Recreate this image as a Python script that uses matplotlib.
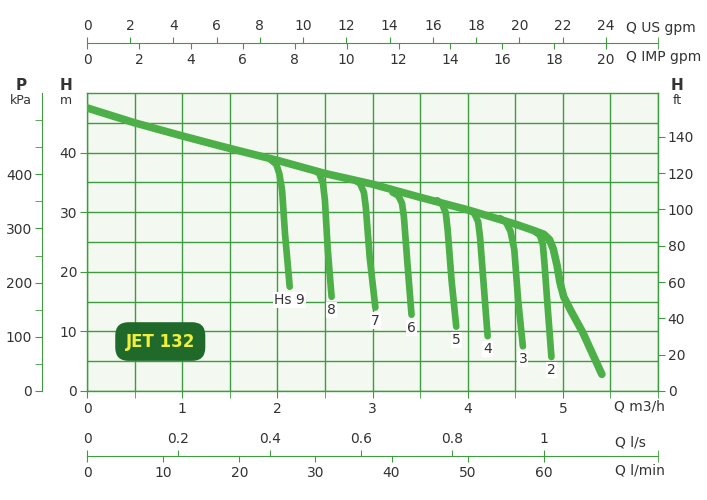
# JET 132 pump curve

import numpy as np
import matplotlib
matplotlib.use("Agg")
import matplotlib.pyplot as plt
from matplotlib.ticker import MultipleLocator, FixedLocator

# main envelope curve, Q in m3/h, H in m
main_q = [0, 0.5, 1.0, 1.5, 2.0, 2.5, 3.0, 3.5, 4.0, 4.5, 4.7, 4.8, 4.86, 4.9, 4.94, 4.97, 5.01, 5.08, 5.21, 5.41]
main_h = [47.5, 45.0, 42.8, 40.7, 38.7, 36.5, 34.7, 32.5, 30.4, 28.0, 26.9, 26.3, 25.4, 23.8, 21.0, 18.2, 15.8, 13.6, 9.8, 2.8]

# branch curves for each suction height
hs_labels = ["Hs 9", "8", "7", "6", "5", "4", "3", "2"]
hs_q = [
    [1.93, 1.99, 2.02, 2.05, 2.08, 2.13],
    [2.39, 2.44, 2.48, 2.50, 2.53, 2.57],
    [2.82, 2.87, 2.91, 2.93, 2.97, 3.03],
    [3.21, 3.27, 3.31, 3.33, 3.37, 3.41],
    [3.68, 3.73, 3.77, 3.79, 3.83, 3.88],
    [4.02, 4.07, 4.11, 4.13, 4.17, 4.21],
    [4.34, 4.40, 4.45, 4.49, 4.53, 4.58],
    [4.71, 4.76, 4.79, 4.81, 4.84, 4.88],
]
hs_h = [
    [38.8, 38.0, 36.5, 33.7, 26.5, 17.5],
    [37.0, 36.5, 34.8, 32.0, 23.7, 15.8],
    [35.3, 34.8, 33.3, 30.8, 22.5, 14.0],
    [33.3, 32.8, 31.5, 29.2, 20.8, 12.8],
    [32.0, 31.4, 29.9, 27.0, 18.7, 10.8],
    [30.3, 29.8, 28.4, 25.8, 17.5, 9.2],
    [29.0, 28.4, 26.8, 23.7, 15.3, 7.5],
    [26.7, 26.1, 24.6, 20.8, 14.2, 5.7],
]

# axis ranges
q_max = 6.0
h_max = 50.0
p_max = 550
ft_max = h_max * 3.281
usgpm_max = q_max * 4.403
impgpm_max = q_max * 3.666
ls_max = 1.25
lmin_max = 75

us_ticks = list(range(0, 25, 2))
imp_ticks = list(range(0, 21, 2))
ls_ticks = [0, 0.2, 0.4, 0.6, 0.8, 1]
ls_ticklabels = ["0", "0.2", "0.4", "0.6", "0.8", "1"]
lmin_ticks = [0, 10, 20, 30, 40, 50, 60]

green = "#3f9b3f"
curve = "#4caf48"
txt = "#333333"
bg = "#f3f9f0"

plt.rcParams["font.family"] = ["DejaVu Sans"]
plt.rcParams["font.size"] = 10

W_PX, H_PX = 707, 500
fig = plt.figure(figsize=(W_PX / 100, H_PX / 100), dpi=100)

def fx(px):
    return px / W_PX

def fy(py):
    return 1 - py / H_PX

L, R, T, B = 87, 658, 93, 391
ax = fig.add_axes([fx(L), fy(B), fx(R - L), (B - T) / H_PX])
ax.set_xlim(0, q_max)
ax.set_ylim(0, h_max)
ax.set_facecolor(bg)
for s in ax.spines.values():
    s.set_color(green)
    s.set_linewidth(1)

ax.set_xticks(range(0, 6))
ax.xaxis.set_minor_locator(MultipleLocator(0.5))
ax.yaxis.set_major_locator(FixedLocator([0, 10, 20, 30, 40]))
ax.yaxis.set_minor_locator(FixedLocator([5, 15, 25, 35, 45]))
ax.grid(True, which="both", color=green, lw=1)
ax.set_axisbelow(True)
ax.tick_params(axis="x", which="both", length=5, color=green, labelcolor=txt, pad=3)
ax.tick_params(axis="y", which="major", length=5, color=green, labelcolor=txt, pad=2)
ax.tick_params(axis="y", which="minor", length=0)

ax.plot(main_q, main_h, color=curve, lw=5.5, solid_capstyle="round", solid_joinstyle="round", zorder=3)
for lab, q, h in zip(hs_labels, hs_q, hs_h):
    ax.plot(q, h, color=curve, lw=4.8, solid_capstyle="round", solid_joinstyle="round", zorder=3)
    ax.annotate(lab, (q[-1], h[-1]), xytext=(0, -13), textcoords="offset pixels",
                ha="center", va="center", color=txt, fontsize=10, zorder=4,
                bbox=dict(boxstyle="square,pad=0.08", fc="white", ec="none"))

ax.text(0.77, 8.3, "JET 132", ha="center", va="center", fontsize=12, fontweight="bold",
        color="#f1ee3c", zorder=5,
        bbox=dict(boxstyle="round,pad=0.62,rounding_size=0.8", fc="#1f6a2b", ec="none"))

# right ft axis
ax_r = ax.twinx()
ax_r.set_ylim(0, ft_max)
ax_r.set_yticks(range(0, 141, 20))
ax_r.tick_params(axis="y", length=5, color=green, labelcolor=txt, pad=2)
for s in ax_r.spines.values():
    s.set_visible(False)

# left kPa axis
ax_p = fig.add_axes([fx(42), fy(B), 0.0001, (B - T) / H_PX])
ax_p.set_ylim(0, p_max)
ax_p.patch.set_visible(False)
ax_p.set_xticks([])
for k in ["right", "top", "bottom"]:
    ax_p.spines[k].set_visible(False)
ax_p.spines["left"].set_color(green)
ax_p.set_yticks(range(0, 401, 100))
ax_p.yaxis.set_minor_locator(FixedLocator([50, 150, 250, 350, 450, 500]))
ax_p.tick_params(axis="y", which="both", length=5, color=green, labelcolor=txt, pad=2)

# flow axis: one line, upper scale ticks above, lower scale ticks below
def flow_axis(ypx, lim_up, ticks_up, labels_up, lim_dn, ticks_dn):
    a = fig.add_axes([fx(L), fy(ypx), fx(R - L), 0.0001])
    b = a.twiny()
    a.patch.set_visible(False)
    a.set_yticks([])
    for k in ["left", "right", "top"]:
        a.spines[k].set_visible(False)
    a.spines["bottom"].set_color(green)
    a.set_xlim(0, lim_up)
    a.xaxis.set_ticks_position("top")
    a.xaxis.set_label_position("top")
    a.set_xticks(ticks_up)
    a.set_xticklabels(labels_up)
    a.xaxis.set_minor_locator(FixedLocator([lim_up]))
    a.tick_params(axis="x", which="both", top=True, bottom=False, labeltop=True,
                  labelbottom=False, direction="out", length=4, color=green,
                  labelcolor=txt, pad=3)

    b.patch.set_visible(False)
    for s in b.spines.values():
        s.set_visible(False)
    b.set_xlim(0, lim_dn)
    b.xaxis.set_ticks_position("bottom")
    b.xaxis.set_label_position("bottom")
    b.set_xticks(ticks_dn)
    b.xaxis.set_minor_locator(FixedLocator([lim_dn]))
    b.tick_params(axis="x", which="both", top=False, bottom=True, labeltop=False,
                  labelbottom=True, direction="out", length=4, color=green,
                  labelcolor=txt, pad=3)
    return a, b

flow_axis(43, usgpm_max, us_ticks, [str(t) for t in us_ticks], impgpm_max, imp_ticks)
flow_axis(456, ls_max, ls_ticks, ls_ticklabels, lmin_max, lmin_ticks)

# unit labels
fig.text(fx(626), fy(28), "Q US gpm", ha="left", va="center", color=txt, fontsize=10)
fig.text(fx(626), fy(57), "Q IMP gpm", ha="left", va="center", color=txt, fontsize=10)
fig.text(fx(614), fy(407), "Q m3/h", ha="left", va="center", color=txt, fontsize=10)
fig.text(fx(615), fy(443), "Q l/s", ha="left", va="center", color=txt, fontsize=10)
fig.text(fx(615), fy(471), "Q l/min", ha="left", va="center", color=txt, fontsize=10)

fig.text(fx(21), fy(86), "P", ha="center", va="center", color=txt, fontsize=11, fontweight="bold")
fig.text(fx(21), fy(100), "kPa", ha="center", va="center", color=txt, fontsize=9)
fig.text(fx(66), fy(86), "H", ha="center", va="center", color=txt, fontsize=11, fontweight="bold")
fig.text(fx(66), fy(100), "m", ha="center", va="center", color=txt, fontsize=9)
fig.text(fx(677), fy(86), "H", ha="center", va="center", color=txt, fontsize=11, fontweight="bold")
fig.text(fx(677), fy(100), "ft", ha="center", va="center", color=txt, fontsize=9)

fig.savefig("out.png", dpi=100)
